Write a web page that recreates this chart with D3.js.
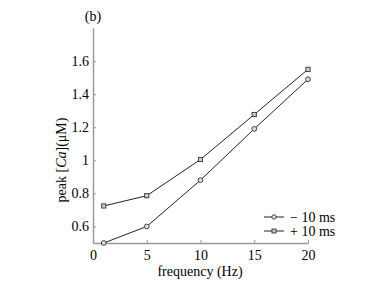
<!DOCTYPE html>
<html>
<head>
<meta charset="utf-8">
<script src="https://cdn.jsdelivr.net/npm/d3@7"></script>
<style>
  body { margin: 0; background: #fff; }
</style>
</head>
<body>
<svg id="chart" width="382" height="286"></svg>
<script>
var freq = [1, 5, 10, 15, 20];
var minus10 = [0.50, 0.60, 0.88, 1.19, 1.49];
var plus10 = [0.724, 0.786, 1.005, 1.277, 1.55];
var seriesNames = ["\u2212 10 ms", "+ 10 ms"];
var xTicks = [0, 5, 10, 15, 20];
var yTicks = [0.6, 0.8, 1, 1.2, 1.4, 1.6];
var FONT = "'Liberation Serif'";

var svg = d3.select("#chart");
var m = { left: 93, right: 74, top: 28, bottom: 43 };
var w = 382 - m.left - m.right, h = 286 - m.top - m.bottom;
var g = svg.append("g").attr("transform", "translate(" + m.left + "," + m.top + ")");

var x = d3.scaleLinear().domain([0, 20]).range([0, w]);
var y = d3.scaleLinear().domain([0.5, 1.8]).range([h, 0]);

var xAxis = g.append("g").attr("transform", "translate(0," + h + ")")
  .call(d3.axisBottom(x).tickValues(xTicks).tickSizeInner(-3).tickSizeOuter(0).tickPadding(7));
var yAxis = g.append("g")
  .call(d3.axisLeft(y).tickValues(yTicks).tickSizeInner(-3).tickSizeOuter(0).tickPadding(4)
    .tickFormat(function(d) { return d3.format("")(d); }));
[xAxis, yAxis].forEach(function(a) {
  a.attr("font-family", null);
  a.select(".domain").attr("stroke", "#999").attr("stroke-width", 1.5);
  a.selectAll(".tick line").attr("stroke", "#999");
  a.selectAll(".tick text").style("font-family", FONT).style("font-size", "14px");
});

var line = d3.line().x(function(d, i) { return x(freq[i]); }).y(function(d) { return y(d); });
[minus10, plus10].forEach(function(s, k) {
  g.append("path").datum(s).attr("d", line).attr("fill", "none").attr("stroke", "#222").attr("stroke-width", 1);
  var pts = g.selectAll(".p" + k).data(s).enter();
  if (k === 0) {
    pts.append("circle").attr("cx", function(d, i) { return x(freq[i]); }).attr("cy", function(d) { return y(d); })
      .attr("r", 2.4).attr("fill", "#ddd").attr("stroke", "#333").attr("stroke-width", 0.9);
  } else {
    pts.append("rect").attr("x", function(d, i) { return x(freq[i]) - 2.1; }).attr("y", function(d) { return y(d) - 2.1; })
      .attr("width", 4.2).attr("height", 4.2).attr("fill", "#ccc").attr("stroke", "#333").attr("stroke-width", 0.9);
  }
});

// legend
var lg = g.append("g").attr("transform", "translate(171,189)");
seriesNames.forEach(function(name, k) {
  var row = lg.append("g").attr("transform", "translate(0," + (k * 14) + ")");
  row.append("line").attr("x1", 0).attr("x2", 20).attr("stroke", "#222");
  if (k === 0) row.append("circle").attr("cx", 10).attr("r", 2.2).attr("fill", "#ddd").attr("stroke", "#333").attr("stroke-width", 0.9);
  else row.append("rect").attr("x", 8).attr("y", -2).attr("width", 4).attr("height", 4).attr("fill", "#ccc").attr("stroke", "#333").attr("stroke-width", 0.9);
  row.append("text").attr("x", 26).attr("y", 5).style("font-family", FONT).style("font-size", "14px").text(name);
});

svg.append("text").attr("x", 93).attr("y", 21).attr("text-anchor", "middle")
  .style("font-family", FONT).style("font-size", "14px").text("(b)");
svg.append("text").attr("x", 200).attr("y", 276).attr("text-anchor", "middle")
  .style("font-family", FONT).style("font-size", "14px").text("frequency (Hz)");
var yl = svg.append("text").attr("transform", "translate(66,160) rotate(-90)").attr("text-anchor", "middle")
  .style("font-family", FONT).style("font-size", "14px");
yl.append("tspan").text("peak [");
yl.append("tspan").style("font-style", "italic").text("Ca");
yl.append("tspan").text("](\u03bcM)");
</script>
</body>
</html>
